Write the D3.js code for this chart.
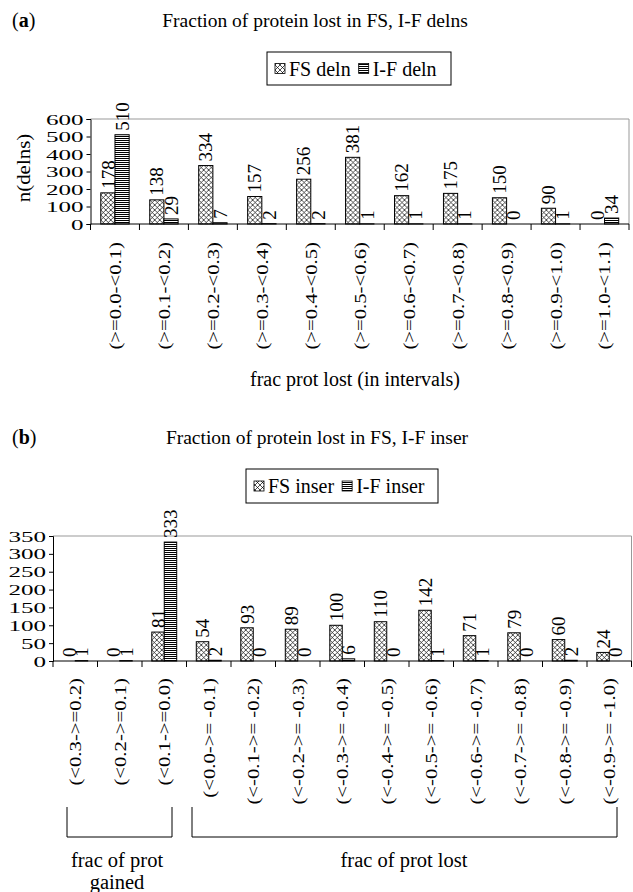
<!DOCTYPE html>
<html>
<head>
<meta charset="utf-8">
<script src="https://cdn.jsdelivr.net/npm/d3@7"></script>
<style>
  body { margin: 0; background: #fff; }
  svg { display: block; }
  text { font-family: "Liberation Serif", "Times New Roman", serif; fill: #000; }
</style>
</head>
<body>
<div id="chart"></div>
<script>
// panel (a) data
const catsA = ["(>=0.0-<0.1)", "(>=0.1-<0.2)", "(>=0.2-<0.3)", "(>=0.3-<0.4)", "(>=0.4-<0.5)",
  "(>=0.5-<0.6)", "(>=0.6-<0.7)", "(>=0.7-<0.8)", "(>=0.8-<0.9)", "(>=0.9-<1.0)", "(>=1.0-<1.1)"];
const fsDeln = [178, 138, 334, 157, 256, 381, 162, 175, 150, 90, 0];
const ifDeln = [510, 29, 7, 2, 2, 1, 1, 1, 0, 1, 34];
const yTicksA = [0, 100, 200, 300, 400, 500, 600];

// panel (b) data
const catsB = ["(<0.3->=0.2)", "(<0.2->=0.1)", "(<0.1->=0.0)", "(<0.0->= -0.1)", "(<-0.1->= -0.2)",
  "(<-0.2->= -0.3)", "(<-0.3->= -0.4)", "(<-0.4->= -0.5)", "(<-0.5->= -0.6)", "(<-0.6->= -0.7)",
  "(<-0.7->= -0.8)", "(<-0.8->= -0.9)", "(<-0.9->= -1.0)"];
const fsInser = [0, 0, 81, 54, 93, 89, 100, 110, 142, 71, 79, 60, 24];
const ifInser = [1, 1, 333, 2, 0, 0, 6, 0, 1, 1, 0, 2, 0];
const yTicksB = [0, 50, 100, 150, 200, 250, 300, 350];

const W = 633, H = 892;
const svg = d3.select("#chart").append("svg").attr("width", W).attr("height", H);

// hatch fills
const defs = svg.append("defs");
const cross = defs.append("pattern").attr("id", "cross")
  .attr("patternUnits", "userSpaceOnUse").attr("width", 5).attr("height", 5);
cross.append("rect").attr("width", 5).attr("height", 5).attr("fill", "#fff");
cross.append("path").attr("d", "M0,0L5,5M5,0L0,5").attr("stroke", "#000").attr("stroke-width", 0.7);

const stripes = defs.append("pattern").attr("id", "stripes")
  .attr("patternUnits", "userSpaceOnUse").attr("width", 4).attr("height", 2);
stripes.append("rect").attr("width", 4).attr("height", 2).attr("fill", "#fff");
stripes.append("rect").attr("width", 4).attr("height", 1).attr("fill", "#000");

function panel(o) {
  const g = svg.append("g");

  g.append("text").attr("x", 12).attr("y", o.titleY).attr("font-size", 20)
    .html('(<tspan font-weight="bold">' + o.tag + '</tspan>)');
  g.append("text").attr("x", o.titleX).attr("y", o.titleY).attr("font-size", 19.5)
    .attr("text-anchor", "middle").text(o.title);

  // legend
  const lg = g.append("g");
  lg.append("rect").attr("x", o.legend[0]).attr("y", o.legend[1])
    .attr("width", o.legend[2]).attr("height", o.legend[3])
    .attr("fill", "#fff").attr("stroke", "#000").attr("stroke-width", 1);
  let lx = o.legend[0] + 8;
  const ly = o.legend[1] + o.legend[3] / 2;
  o.names.forEach((n, k) => {
    lg.append("rect").attr("x", lx).attr("y", ly - 5).attr("width", 10).attr("height", 10)
      .attr("fill", k === 0 ? "url(#cross)" : "url(#stripes)").attr("stroke", "#000").attr("stroke-width", 0.8);
    const t = lg.append("text").attr("x", lx + 14).attr("y", ly + 7).attr("font-size", 20).text(n);
    lx += 14 + t.node().getComputedTextLength() + 8;
  });

  const x = d3.scaleBand().domain(o.cats).range([o.left, o.right]);
  const gw = x.bandwidth() * o.group;
  const x1 = d3.scaleBand().domain([0, 1]).range([0, gw]);
  const y = d3.scaleLinear().domain([0, o.yMax]).range([o.bottom, o.top]);

  // frame (top / right in grey)
  g.append("path")
    .attr("d", `M${o.left},${o.top}H${o.right}V${o.bottom}`)
    .attr("fill", "none").attr("stroke", "#999").attr("stroke-width", 1);

  const rows = o.cats.map((c, i) => ({ c, i }));
  const groups = g.selectAll("g.grp").data(rows).join("g")
    .attr("transform", d => `translate(${x(d.c) + (x.bandwidth() - gw) / 2},0)`);

  groups.selectAll("rect").data(d => o.series.map((s, k) => ({ k, v: s[d.i] })))
    .join("rect")
    .attr("x", d => x1(d.k)).attr("width", x1.bandwidth())
    .attr("y", d => y(d.v)).attr("height", d => o.bottom - y(d.v))
    .attr("fill", d => d.k === 0 ? "url(#cross)" : "url(#stripes)")
    .attr("stroke", "#000").attr("stroke-width", 1);

  groups.selectAll("text").data(d => o.series.map((s, k) => ({ k, v: s[d.i] })))
    .join("text")
    .attr("font-size", 19)
    .attr("text-anchor", "start")
    .attr("dy", "0.35em")
    .attr("transform", d => `translate(${x1(d.k) + x1.bandwidth() / 2},${y(d.v) - 4}) rotate(-90)`)
    .text(d => d.v);

  // y axis
  const ya = g.append("g").attr("transform", `translate(${o.left},0)`)
    .call(d3.axisLeft(y).tickValues(o.yTicks).tickSize(4).tickFormat(d3.format("d")));
  ya.select(".domain").attr("stroke", "#000");
  ya.selectAll("text").remove();
  g.selectAll("text.ytick").data(o.yTicks).join("text").attr("class", "ytick")
    .attr("font-size", 15.2).attr("text-anchor", "end")
    .attr("transform", d => `translate(${o.left - 7},${y(d) + 5.5}) scale(1.65,1)`)
    .text(d => d);

  // x axis: ticks at band edges
  g.append("line").attr("x1", o.left).attr("x2", o.right)
    .attr("y1", o.bottom).attr("y2", o.bottom).attr("stroke", "#000");
  g.selectAll("line.xt").data(o.cats.concat(["_end"])).join("line").attr("class", "xt")
    .attr("x1", (d, i) => i < o.cats.length ? x(d) : o.right)
    .attr("x2", (d, i) => i < o.cats.length ? x(d) : o.right)
    .attr("y1", o.bottom).attr("y2", o.bottom + 6).attr("stroke", "#000");

  g.selectAll("text.xcat").data(o.cats).join("text").attr("class", "xcat")
    .attr("font-size", 17).attr("text-anchor", "end").attr("dy", "0.35em")
    .attr("transform", d => `translate(${x(d) + x.bandwidth() / 2},${o.bottom + o.labelGap}) rotate(-90) scale(1.22,1)`)
    .text(d => d);

  return { g, x };
}

const A = panel({
  tag: "a", title: "Fraction of protein lost in FS, I-F delns", titleX: 315, titleY: 27,
  legend: [267, 52, 184, 33], names: ["FS deln", "I-F deln"],
  cats: catsA, series: [fsDeln, ifDeln], yTicks: yTicksA, yMax: 600,
  left: 90.5, right: 629, top: 119, bottom: 224, group: 0.58, labelGap: 18
});
A.g.append("text").attr("x", 355).attr("y", 386).attr("font-size", 20)
  .attr("text-anchor", "middle").text("frac prot lost (in intervals)");
A.g.append("text").attr("font-size", 19).attr("text-anchor", "middle")
  .attr("transform", "translate(30,168) rotate(-90) scale(1.1,1)").text("n(delns)");

const B = panel({
  tag: "b", title: "Fraction of protein lost in FS, I-F inser", titleX: 317, titleY: 444,
  legend: [246, 469, 192, 34], names: ["FS inser", "I-F inser"],
  cats: catsB, series: [fsInser, ifInser], yTicks: yTicksB, yMax: 350,
  left: 53, right: 631.5, top: 536, bottom: 661, group: 0.56, labelGap: 17
});

// brackets under panel (b)
const xb = B.x, bw = xb.bandwidth();
const brackets = [
  [xb(catsB[0]) + 14, xb(catsB[2]) + bw - 14.5],
  [xb(catsB[3]) + 5.5, xb(catsB[12]) + bw - 14.5]
];
B.g.selectAll("path.br").data(brackets).join("path").attr("class", "br")
  .attr("d", d => `M${d[0]},807V837H${d[1]}V807`)
  .attr("fill", "none").attr("stroke", "#000").attr("stroke-width", 1);
B.g.append("text").attr("x", 117).attr("y", 867).attr("font-size", 20.5)
  .attr("text-anchor", "middle").text("frac of prot");
B.g.append("text").attr("x", 117).attr("y", 889).attr("font-size", 20.5)
  .attr("text-anchor", "middle").text("gained");
B.g.append("text").attr("x", 404).attr("y", 867).attr("font-size", 20.5)
  .attr("text-anchor", "middle").text("frac of prot lost");
</script>
</body>
</html>
